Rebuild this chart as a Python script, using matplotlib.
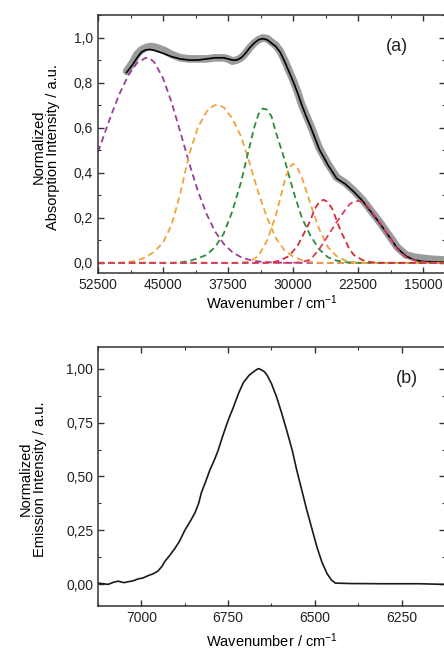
import matplotlib
matplotlib.use("Agg")
import matplotlib.pyplot as plt
from matplotlib.ticker import MultipleLocator, FuncFormatter

plt.rcParams["font.family"] = ["Liberation Sans", "DejaVu Sans"]
plt.rcParams["mathtext.fontset"] = "custom"
plt.rcParams["mathtext.rm"] = "Liberation Sans"
plt.rcParams["mathtext.it"] = "Liberation Sans"

# ---- panel (a): absorption spectrum, fit and Gaussian components ----
abs_x = [49200, 48500, 48000, 47500, 47000, 46500, 46000, 45000, 44000, 43000, 42000,
         41000, 40000, 39000, 38000, 37500, 37000, 36500, 36000, 35500, 35000, 34500,
         34000, 33500, 33000, 32500, 32000, 31500, 31000, 30500, 30000, 29500, 29000,
         28500, 28000, 27000, 26000, 25000, 24000, 23000, 22500, 22000, 21000, 20000,
         19000, 18000, 17000, 16000, 15000, 14000, 13000, 12500]
abs_data = [0.85, 0.89, 0.925, 0.945, 0.955, 0.96, 0.958, 0.945, 0.925, 0.91, 0.905,
            0.905, 0.905, 0.91, 0.91, 0.905, 0.895, 0.9, 0.91, 0.93, 0.955, 0.975,
            0.99, 0.998, 0.995, 0.98, 0.965, 0.94, 0.9, 0.855, 0.81, 0.76, 0.7,
            0.655, 0.61, 0.51, 0.44, 0.38, 0.355, 0.32, 0.3, 0.28, 0.23, 0.18,
            0.125, 0.07, 0.035, 0.025, 0.02, 0.016, 0.014, 0.013]
abs_fit = [0.845, 0.88, 0.91, 0.935, 0.945, 0.947, 0.943, 0.93, 0.915, 0.905, 0.9,
           0.9, 0.905, 0.91, 0.91, 0.905, 0.9, 0.9, 0.91, 0.93, 0.955, 0.975,
           0.99, 0.995, 0.99, 0.975, 0.96, 0.935, 0.895, 0.85, 0.805, 0.755, 0.7,
           0.65, 0.605, 0.505, 0.435, 0.375, 0.35, 0.315, 0.295, 0.275, 0.225, 0.175,
           0.12, 0.065, 0.03, 0.012, 0.006, 0.004, 0.003, 0.003]

purple_x = [52500, 52000, 51000, 50000, 49000, 48000, 47000, 46500, 46000, 45000, 44000,
            43000, 42000, 41000, 40000, 39000, 38000, 37000, 36000, 35000, 34000, 33000,
            32000, 30000, 12500]
purple_y = [0.492, 0.546, 0.654, 0.752, 0.833, 0.887, 0.91, 0.907, 0.89, 0.82, 0.71,
            0.579, 0.444, 0.321, 0.218, 0.139, 0.084, 0.047, 0.025, 0.013, 0.006, 0.003,
            0.001, 0.0, 0.0]

orange1_x = [52500, 50000, 49000, 48000, 47000, 46000, 45000, 44000, 43000, 42000, 41000,
             40000, 39500, 39000, 38500, 38000, 37000, 36000, 35000, 34000, 33000, 32000,
             31000, 30000, 29000, 28000, 27000, 12500]
orange1_y = [0.0, 0.0, 0.003, 0.01, 0.025, 0.05, 0.09, 0.17, 0.31, 0.48, 0.6,
             0.67, 0.69, 0.7, 0.7, 0.69, 0.64, 0.56, 0.44, 0.31, 0.2, 0.11,
             0.055, 0.028, 0.012, 0.004, 0.0, 0.0]

green_x = [52500, 44000, 43000, 42000, 41000, 40000, 39000, 38000, 37000, 36000, 35000,
           34500, 34000, 33500, 33000, 32500, 32000, 31000, 30000, 29000, 28000, 27000,
           26000, 25000, 24000, 23000, 12500]
green_y = [0.0, 0.0, 0.002, 0.008, 0.02, 0.035, 0.07, 0.13, 0.23, 0.36, 0.52,
           0.6, 0.66, 0.685, 0.68, 0.65, 0.58, 0.46, 0.32, 0.2, 0.12, 0.06,
           0.025, 0.01, 0.003, 0.0, 0.0]

orange2_x = [52500, 36000, 35000, 34000, 33000, 32000, 31000, 30500, 30000, 29500, 29000,
             28000, 27000, 26000, 25000, 24000, 23000, 22000, 12500]
orange2_y = [0.0, 0.0, 0.006, 0.03, 0.1, 0.21, 0.36, 0.42, 0.44, 0.42, 0.38,
             0.26, 0.15, 0.07, 0.03, 0.01, 0.003, 0.0, 0.0]

red1_x = [52500, 33500, 32500, 31500, 30500, 29500, 28500, 28000, 27500, 27000, 26500,
          26000, 25500, 25000, 24500, 24000, 23500, 23000, 22000, 21000, 20000, 12500]
red1_y = [0.0, 0.0, 0.002, 0.01, 0.03, 0.075, 0.15, 0.19, 0.24, 0.27, 0.28,
          0.27, 0.24, 0.19, 0.14, 0.1, 0.06, 0.035, 0.012, 0.003, 0.0, 0.0]

red2_x = [52500, 30000, 29000, 28000, 27000, 26000, 25000, 24000, 23500, 23000, 22500,
          22000, 21500, 21000, 20000, 19000, 18000, 17000, 16000, 15000, 14000, 12500]
red2_y = [0.0, 0.0, 0.003, 0.015, 0.06, 0.12, 0.18, 0.235, 0.26, 0.272, 0.275,
          0.27, 0.255, 0.23, 0.18, 0.12, 0.06, 0.025, 0.01, 0.003, 0.0, 0.0]

components = [
    (purple_x, purple_y, "#9a3d9a"),
    (orange1_x, orange1_y, "#f0a33a"),
    (green_x, green_y, "#2e8b3a"),
    (orange2_x, orange2_y, "#f0a33a"),
    (red1_x, red1_y, "#d42a3c"),
    (red2_x, red2_y, "#d8405c"),
]

# ---- panel (b): emission spectrum ----
em_x = [7125, 7110, 7096, 7080, 7067, 7050, 7039, 7025, 7010, 6995, 6981, 6965, 6952,
        6940, 6933, 6918, 6904, 6890, 6875, 6860, 6846, 6835, 6827, 6815, 6803, 6790,
        6779, 6765, 6750, 6735, 6720, 6706, 6690, 6677, 6668, 6662, 6655, 6645, 6638,
        6625, 6610, 6595, 6581, 6565, 6552, 6523, 6494, 6480, 6465, 6452, 6441, 6400,
        6300, 6200, 6125]
em_y = [0.006, 0.003, 0.0, 0.01, 0.015, 0.008, 0.012, 0.016, 0.025, 0.03, 0.04, 0.05, 0.062,
        0.085, 0.105, 0.135, 0.165, 0.2, 0.25, 0.29, 0.33, 0.375, 0.425, 0.475, 0.528, 0.575,
        0.62, 0.69, 0.76, 0.82, 0.885, 0.935, 0.968, 0.985, 0.995, 1.0, 0.995, 0.985, 0.97,
        0.93, 0.867, 0.79, 0.713, 0.62, 0.528, 0.343, 0.173, 0.105, 0.05, 0.02, 0.006, 0.004,
        0.003, 0.003, 0.0]


def comma_fmt(decimals):
    return FuncFormatter(lambda v, pos: f"{v:.{decimals}f}".replace(".", ","))


def style_axes(ax):
    for s in ax.spines.values():
        s.set_linewidth(1.1)
        s.set_color("#333333")
    ax.tick_params(which="both", direction="in", top=True, right=True,
                   colors="#333333", labelcolor="#222222", labelsize=10)
    ax.tick_params(which="major", length=4, width=1)
    ax.tick_params(which="minor", length=2.5, width=0.8)


fig = plt.figure(figsize=(4.44, 6.52), dpi=100)

ax1 = fig.add_axes([0.2207, 0.5813, 0.7815, 0.3957])
ax1.plot(abs_x, abs_data, color="#8a8a8a", lw=5.5, alpha=0.85, solid_capstyle="round")
ax1.plot(abs_x, abs_fit, color="black", lw=1.2)
for cx, cy, col in components:
    ax1.plot(cx, cy, color=col, lw=1.3, dashes=(3.5, 2.2))
ax1.set_xlim(52500, 12500)
ax1.set_ylim(-0.045, 1.1)
ax1.xaxis.set_major_locator(MultipleLocator(7500))
ax1.xaxis.set_minor_locator(MultipleLocator(3750))
ax1.yaxis.set_major_locator(MultipleLocator(0.2))
ax1.yaxis.set_minor_locator(MultipleLocator(0.1))
ax1.yaxis.set_major_formatter(comma_fmt(1))
style_axes(ax1)
ax1.set_xlabel("Wavenumber / cm$^{-1}$", fontsize=10.5, labelpad=1)
ax1.set_ylabel("Normalized\nAbsorption Intensity / a.u.", fontsize=10.5, linespacing=1.0)
ax1.yaxis.set_label_coords(-0.11, 0.49)
ax1.text(0.862, 0.876, "(a)", transform=ax1.transAxes, fontsize=13,
         ha="center", va="center", color="#222222")

ax2 = fig.add_axes([0.2207, 0.0706, 0.7815, 0.3972])
ax2.plot(em_x, em_y, color="#1a1a1a", lw=1.2)
ax2.set_xlim(7125, 6125)
ax2.set_ylim(-0.1, 1.1)
ax2.xaxis.set_major_locator(MultipleLocator(250))
ax2.xaxis.set_minor_locator(MultipleLocator(125))
ax2.yaxis.set_major_locator(MultipleLocator(0.25))
ax2.yaxis.set_minor_locator(MultipleLocator(0.125))
ax2.yaxis.set_major_formatter(comma_fmt(2))
style_axes(ax2)
ax2.set_xlabel("Wavenumber / cm$^{-1}$", fontsize=10.5, labelpad=5)
ax2.set_ylabel("Normalized\nEmission Intensity / a.u.", fontsize=10.5, linespacing=1.0)
ax2.yaxis.set_label_coords(-0.147, 0.49)
ax2.text(0.89, 0.88, "(b)", transform=ax2.transAxes, fontsize=13,
         ha="center", va="center", color="#222222")

fig.savefig("out.png", dpi=100)
